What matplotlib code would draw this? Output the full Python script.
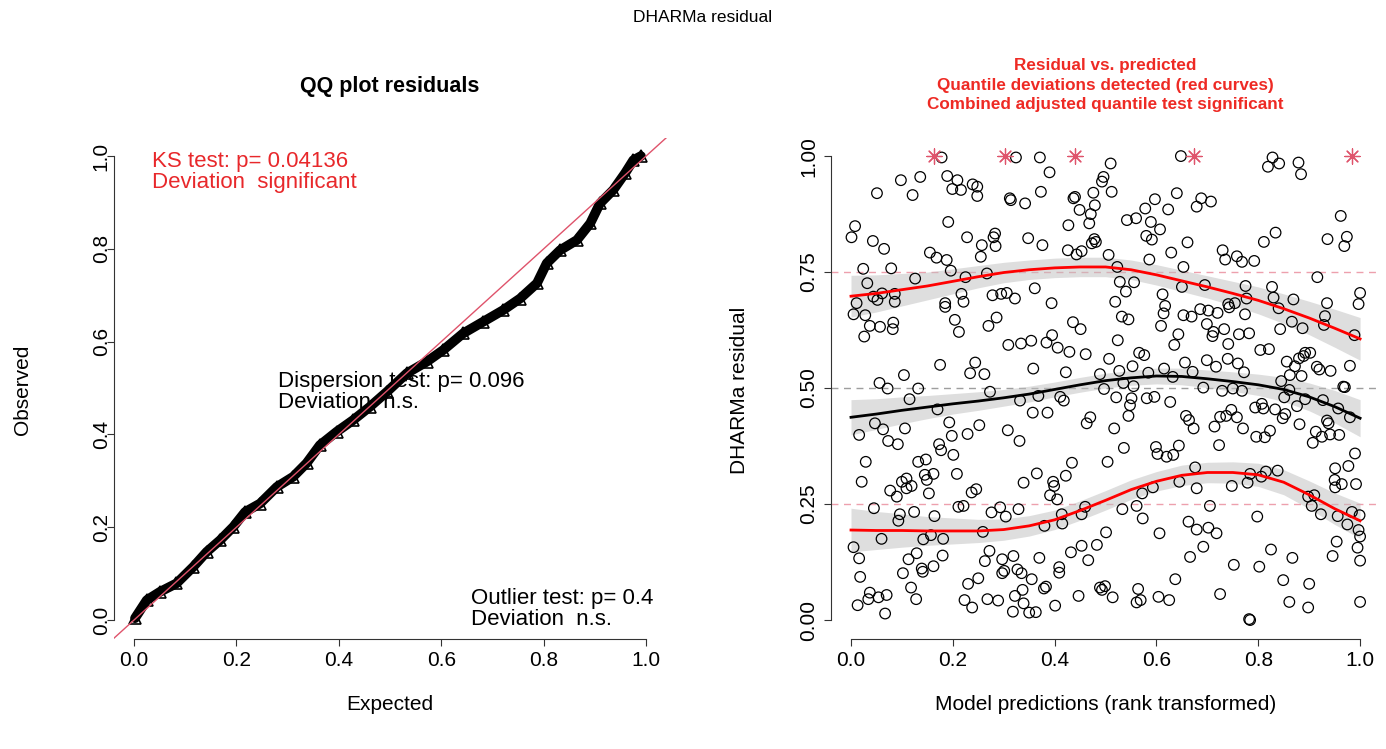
import numpy as np
import matplotlib
matplotlib.use("Agg")
import matplotlib.pyplot as plt

plt.rcParams['font.family'] = ['Liberation Sans', 'DejaVu Sans']

# --- QQ plot (expected vs observed) ---
qq_expected = [0.002, 0.025, 0.051, 0.083, 0.116, 0.142, 0.168, 0.194, 0.217, 0.246,
               0.279, 0.311, 0.337, 0.363, 0.396, 0.428, 0.461, 0.494, 0.533, 0.572,
               0.604, 0.643, 0.682, 0.721, 0.754, 0.787, 0.806, 0.832, 0.865, 0.891,
               0.910, 0.936, 0.959, 0.975, 0.990]
qq_observed = [0.004, 0.043, 0.061, 0.079, 0.115, 0.147, 0.172, 0.201, 0.233, 0.251,
               0.287, 0.309, 0.338, 0.377, 0.406, 0.431, 0.460, 0.492, 0.532, 0.557,
               0.582, 0.618, 0.643, 0.668, 0.693, 0.726, 0.769, 0.797, 0.819, 0.855,
               0.898, 0.927, 0.963, 0.991, 1.000]

# --- residual vs predicted scatter (rank transformed x, residual y) ---
pts_top = [
    (0.178, 0.997), (0.098, 0.948), (0.136, 0.955), (0.051, 0.920), (0.121, 0.916), (0.189, 0.957),
    (0.209, 0.948), (0.199, 0.929), (0.216, 0.927), (0.239, 0.939), (0.248, 0.934), (0.248, 0.914),
    (0.312, 0.909), (0.314, 0.905), (0.191, 0.858), (0.008, 0.849), (0.001, 0.825), (0.043, 0.817),
    (0.065, 0.800), (0.228, 0.825), (0.283, 0.833), (0.280, 0.825), (0.284, 0.806), (0.257, 0.808),
    (0.255, 0.783), (0.155, 0.792), (0.168, 0.781), (0.188, 0.776), (0.196, 0.753), (0.024, 0.757),
    (0.079, 0.758), (0.126, 0.736), (0.225, 0.739), (0.267, 0.747), (0.032, 0.726), (0.044, 0.697),
    (0.061, 0.704), (0.086, 0.703), (0.052, 0.690), (0.011, 0.683), (0.086, 0.686), (0.217, 0.703),
    (0.221, 0.686), (0.278, 0.700), (0.295, 0.703), (0.306, 0.705), (0.322, 0.693), (0.185, 0.683),
    (0.324, 0.997),
    (0.371, 0.997), (0.510, 0.984), (0.390, 0.965), (0.648, 1.000), (0.496, 0.955), (0.493, 0.945),
    (0.373, 0.923), (0.342, 0.898), (0.440, 0.912), (0.437, 0.909), (0.476, 0.921), (0.512, 0.923),
    (0.449, 0.884), (0.479, 0.894), (0.471, 0.875), (0.427, 0.851), (0.468, 0.855), (0.640, 0.920),
    (0.597, 0.907), (0.578, 0.887), (0.623, 0.885), (0.679, 0.891), (0.542, 0.862), (0.560, 0.866),
    (0.589, 0.858), (0.607, 0.842), (0.580, 0.828), (0.591, 0.820), (0.348, 0.823), (0.376, 0.808),
    (0.478, 0.821), (0.481, 0.815), (0.473, 0.812), (0.426, 0.797), (0.443, 0.788), (0.453, 0.795),
    (0.506, 0.787), (0.629, 0.792), (0.661, 0.814), (0.586, 0.777), (0.523, 0.761), (0.653, 0.761),
    (0.528, 0.729), (0.556, 0.728), (0.540, 0.708), (0.361, 0.715), (0.650, 0.718), (0.612, 0.702),
    (0.394, 0.683), (0.519, 0.686),
    (0.828, 0.997), (0.819, 0.977), (0.841, 0.984), (0.879, 0.986), (0.884, 0.961), (0.688, 0.909),
    (0.707, 0.902), (0.962, 0.871), (0.834, 0.835), (0.811, 0.815), (0.936, 0.821), (0.974, 0.826),
    (0.969, 0.806), (0.730, 0.797), (0.735, 0.777), (0.758, 0.784), (0.768, 0.772), (0.792, 0.774),
    (0.916, 0.739), (0.695, 0.722), (0.775, 0.720), (0.827, 0.718), (0.830, 0.695), (0.777, 0.693),
    (0.869, 0.691), (1.000, 0.705), (0.754, 0.683), (0.741, 0.681), (0.935, 0.683), (0.997, 0.681),
]
pts_mid = [
    (0.005, 0.659), (0.028, 0.657), (0.037, 0.634), (0.057, 0.632), (0.083, 0.641), (0.082, 0.627),
    (0.026, 0.611), (0.185, 0.675), (0.204, 0.647), (0.212, 0.621), (0.286, 0.652), (0.270, 0.634),
    (0.309, 0.593), (0.334, 0.596), (0.175, 0.550), (0.244, 0.555), (0.234, 0.532), (0.262, 0.530),
    (0.104, 0.528), (0.056, 0.511), (0.072, 0.499), (0.132, 0.499), (0.115, 0.476), (0.273, 0.492),
    (0.332, 0.473), (0.170, 0.454), (0.047, 0.424), (0.063, 0.411), (0.106, 0.413), (0.193, 0.426),
    (0.252, 0.420), (0.308, 0.409), (0.016, 0.399), (0.073, 0.386), (0.092, 0.379), (0.198, 0.397),
    (0.229, 0.401), (0.331, 0.386), (0.173, 0.379), (0.177, 0.366), (0.201, 0.356), (0.029, 0.341),
    (0.132, 0.341), (0.147, 0.346),
    (0.617, 0.677), (0.614, 0.661), (0.653, 0.657), (0.669, 0.654), (0.436, 0.642), (0.451, 0.627),
    (0.532, 0.654), (0.545, 0.648), (0.609, 0.634), (0.354, 0.602), (0.384, 0.598), (0.395, 0.614),
    (0.406, 0.587), (0.429, 0.578), (0.461, 0.573), (0.524, 0.603), (0.643, 0.616), (0.635, 0.593),
    (0.566, 0.576), (0.576, 0.571), (0.507, 0.563), (0.656, 0.555), (0.358, 0.542), (0.422, 0.534),
    (0.489, 0.530), (0.527, 0.537), (0.553, 0.547), (0.584, 0.533), (0.615, 0.542), (0.632, 0.524),
    (0.671, 0.535), (0.497, 0.498), (0.535, 0.511), (0.555, 0.504), (0.368, 0.483), (0.411, 0.481),
    (0.418, 0.473), (0.521, 0.480), (0.551, 0.478), (0.581, 0.478), (0.596, 0.481), (0.627, 0.470),
    (0.548, 0.463), (0.545, 0.440), (0.357, 0.447), (0.386, 0.447), (0.470, 0.437), (0.463, 0.424),
    (0.517, 0.413), (0.658, 0.440), (0.664, 0.431), (0.673, 0.413), (0.536, 0.371), (0.599, 0.373),
    (0.644, 0.376), (0.602, 0.358), (0.620, 0.352), (0.633, 0.356), (0.434, 0.339), (0.504, 0.341),
    (0.686, 0.670), (0.702, 0.667), (0.720, 0.662), (0.743, 0.674), (0.774, 0.659), (0.840, 0.672),
    (0.931, 0.655), (0.699, 0.638), (0.712, 0.621), (0.710, 0.612), (0.733, 0.627), (0.762, 0.616),
    (0.782, 0.618), (0.741, 0.595), (0.843, 0.627), (0.866, 0.643), (0.887, 0.629), (0.929, 0.636),
    (0.989, 0.614), (0.804, 0.582), (0.821, 0.584), (0.892, 0.576), (0.902, 0.576), (0.699, 0.560),
    (0.717, 0.546), (0.740, 0.563), (0.760, 0.553), (0.772, 0.534), (0.856, 0.557), (0.872, 0.547),
    (0.880, 0.564), (0.889, 0.569), (0.915, 0.546), (0.920, 0.540), (0.942, 0.537), (0.980, 0.548),
    (0.862, 0.528), (0.885, 0.526), (0.845, 0.515), (0.692, 0.501), (0.729, 0.494), (0.750, 0.499),
    (0.768, 0.494), (0.861, 0.496), (0.851, 0.480), (0.967, 0.503), (0.970, 0.502), (0.892, 0.476),
    (0.927, 0.474), (0.794, 0.458), (0.807, 0.466), (0.810, 0.456), (0.833, 0.454), (0.876, 0.461),
    (0.957, 0.456), (0.980, 0.437), (0.853, 0.444), (0.848, 0.435), (0.725, 0.438), (0.737, 0.440),
    (0.747, 0.453), (0.758, 0.437), (0.714, 0.417), (0.770, 0.413), (0.881, 0.422), (0.935, 0.430),
    (0.938, 0.424), (0.913, 0.406), (0.796, 0.395), (0.813, 0.394), (0.823, 0.408), (0.925, 0.395),
    (0.941, 0.400), (0.959, 0.399), (0.907, 0.382), (0.723, 0.377), (0.990, 0.359),
]
pts_low = [
    (0.145, 0.313), (0.162, 0.315), (0.149, 0.302), (0.208, 0.315), (0.021, 0.298), (0.100, 0.298),
    (0.109, 0.305), (0.119, 0.289), (0.109, 0.284), (0.077, 0.279), (0.090, 0.266), (0.153, 0.273),
    (0.237, 0.275), (0.246, 0.282), (0.339, 0.296), (0.211, 0.244), (0.221, 0.246), (0.045, 0.241),
    (0.096, 0.228), (0.093, 0.214), (0.124, 0.233), (0.164, 0.224), (0.276, 0.232), (0.293, 0.243),
    (0.304, 0.223), (0.329, 0.239), (0.259, 0.190), (0.060, 0.175), (0.142, 0.174), (0.157, 0.183),
    (0.181, 0.175), (0.005, 0.157), (0.016, 0.133), (0.113, 0.131), (0.129, 0.144), (0.180, 0.139),
    (0.272, 0.149), (0.263, 0.127), (0.297, 0.131), (0.319, 0.138), (0.327, 0.109), (0.297, 0.101),
    (0.301, 0.106), (0.335, 0.101), (0.139, 0.111), (0.141, 0.104), (0.162, 0.116), (0.102, 0.101),
    (0.018, 0.093), (0.118, 0.070), (0.230, 0.078), (0.250, 0.090), (0.037, 0.059), (0.034, 0.045),
    (0.054, 0.049), (0.070, 0.054), (0.013, 0.032), (0.128, 0.045), (0.223, 0.043), (0.238, 0.027),
    (0.268, 0.045), (0.289, 0.042), (0.322, 0.052), (0.337, 0.065), (0.339, 0.036), (0.067, 0.014),
    (0.318, 0.018),
    (0.365, 0.316), (0.397, 0.298), (0.399, 0.289), (0.422, 0.311), (0.391, 0.269), (0.405, 0.260),
    (0.676, 0.329), (0.645, 0.298), (0.679, 0.284), (0.593, 0.286), (0.572, 0.273), (0.460, 0.244),
    (0.453, 0.228), (0.414, 0.228), (0.415, 0.208), (0.380, 0.203), (0.533, 0.239), (0.561, 0.246),
    (0.573, 0.219), (0.663, 0.212), (0.679, 0.195), (0.501, 0.189), (0.606, 0.187), (0.453, 0.160),
    (0.483, 0.162), (0.432, 0.146), (0.370, 0.134), (0.466, 0.129), (0.666, 0.136), (0.409, 0.114),
    (0.409, 0.102), (0.355, 0.088), (0.379, 0.068), (0.383, 0.072), (0.489, 0.070), (0.499, 0.073),
    (0.493, 0.065), (0.564, 0.067), (0.637, 0.088), (0.350, 0.016), (0.363, 0.017), (0.401, 0.031),
    (0.447, 0.052), (0.514, 0.049), (0.561, 0.038), (0.569, 0.043), (0.604, 0.050), (0.625, 0.043),
    (0.748, 0.289), (0.779, 0.296), (0.784, 0.315), (0.806, 0.309), (0.815, 0.320), (0.838, 0.322),
    (0.951, 0.327), (0.977, 0.332), (0.950, 0.302), (0.964, 0.293), (0.951, 0.286), (0.992, 0.293),
    (0.705, 0.246), (0.898, 0.266), (0.910, 0.269), (0.905, 0.246), (0.923, 0.228), (0.798, 0.223),
    (0.956, 0.224), (0.984, 0.233), (0.999, 0.226), (0.975, 0.206), (0.997, 0.194), (1.000, 0.180),
    (0.702, 0.199), (0.718, 0.187), (0.692, 0.158), (0.825, 0.152), (0.867, 0.134), (0.954, 0.169),
    (0.995, 0.156), (0.946, 0.138), (1.000, 0.128), (0.752, 0.119), (0.802, 0.115), (0.849, 0.086),
    (0.900, 0.078), (0.725, 0.056), (0.861, 0.039), (0.898, 0.027), (1.000, 0.039), (0.782, 0.002),
    (0.784, 0.000),
]

# quantile regression curves (read at x = 0, 0.05, ..., 1)
curve_x = [0.00, 0.05, 0.10, 0.15, 0.20, 0.25, 0.30, 0.35, 0.40, 0.45, 0.50,
           0.55, 0.60, 0.65, 0.70, 0.75, 0.80, 0.85, 0.90, 0.95, 1.00]
q75_fit = [0.698, 0.704, 0.712, 0.720, 0.730, 0.740, 0.749, 0.755, 0.759, 0.761, 0.761,
           0.755, 0.744, 0.731, 0.718, 0.704, 0.689, 0.671, 0.651, 0.629, 0.606]
q75_se = [0.045, 0.040, 0.035, 0.030, 0.027, 0.024, 0.022, 0.021, 0.021, 0.021, 0.021,
          0.021, 0.022, 0.023, 0.024, 0.026, 0.029, 0.032, 0.036, 0.041, 0.046]
q50_fit = [0.437, 0.444, 0.452, 0.459, 0.466, 0.472, 0.479, 0.487, 0.497, 0.507, 0.516,
           0.522, 0.526, 0.525, 0.520, 0.514, 0.507, 0.497, 0.481, 0.460, 0.435]
q50_se = [0.038, 0.033, 0.029, 0.025, 0.022, 0.020, 0.018, 0.017, 0.016, 0.016, 0.016,
          0.016, 0.017, 0.018, 0.019, 0.021, 0.023, 0.026, 0.030, 0.035, 0.040]
q25_fit = [0.194, 0.193, 0.193, 0.192, 0.192, 0.192, 0.195, 0.203, 0.216, 0.236, 0.258,
           0.281, 0.299, 0.312, 0.318, 0.318, 0.313, 0.297, 0.270, 0.240, 0.214]
q25_se = [0.047, 0.041, 0.036, 0.031, 0.028, 0.025, 0.023, 0.022, 0.021, 0.021, 0.021,
          0.021, 0.021, 0.022, 0.022, 0.023, 0.025, 0.027, 0.030, 0.034, 0.038]

# asterisks marking outliers at the top edge
star_x = [0.163, 0.303, 0.440, 0.674, 0.985]

R_PINK = '#DF536B'
FS = 15

fig = plt.figure(figsize=(13.86, 7.49), dpi=100)
ax1 = fig.add_axes([0.0819, 0.1474, 0.399, 0.669])
ax2 = fig.add_axes([0.5993, 0.1474, 0.3967, 0.669])


def r_style(ax, ticks, labels, ypad):
    ax.set_xlim(-0.04, 1.04)
    ax.set_ylim(-0.04, 1.04)
    for s in ['top', 'right']:
        ax.spines[s].set_visible(False)
    ax.spines['left'].set_bounds(0, 1)
    ax.spines['bottom'].set_bounds(0, 1)
    ax.spines['left'].set_color('#333333')
    ax.spines['bottom'].set_color('#333333')
    ax.set_xticks(np.arange(0, 1.01, 0.2))
    ax.set_xticklabels([f"{t:.1f}" for t in np.arange(0, 1.01, 0.2)])
    ax.set_yticks(ticks)
    ax.set_yticklabels(labels, rotation=90, va='center')
    ax.tick_params(length=5, width=0.8, pad=4, labelsize=FS, colors='#333333', labelcolor='black')
    ax.tick_params(axis='y', pad=ypad)


# --- left panel: QQ plot ---
r_style(ax1, np.arange(0, 1.01, 0.2), [f"{t:.1f}" for t in np.arange(0, 1.01, 0.2)], -3)
ax1.plot(qq_expected, qq_observed, color='black', lw=7, solid_capstyle='round', zorder=2)
ax1.plot(qq_expected, qq_observed, ls='none', marker='^', ms=9, mfc='none', mec='black',
         mew=1.2, zorder=3)
ax1.axline((0, 0), slope=1, color=R_PINK, lw=1, zorder=4)

ax1.text(0.5, 1.08, "QQ plot residuals", transform=ax1.transAxes, ha='center', va='bottom',
         fontsize=15.5, fontweight='bold')
ax1.text(0.5, -0.1325, "Expected", transform=ax1.transAxes, ha='center', va='center', fontsize=FS)
ax1.text(-0.165, 0.496, "Observed", transform=ax1.transAxes, ha='center', va='center',
         rotation=90, fontsize=FS)

ax1.text(0.036, 1.01, "KS test: p= 0.04136\nDeviation  significant", color='#E8282B',
         fontsize=16, ha='left', va='top', linespacing=1.0)
ax1.text(0.281, 0.536, "Dispersion test: p= 0.096\nDeviation  n.s.", color='black',
         fontsize=16, ha='left', va='top', linespacing=1.0)
ax1.text(0.658, 0.070, "Outlier test: p= 0.4\nDeviation  n.s.", color='black',
         fontsize=16, ha='left', va='top', linespacing=1.05)

# --- right panel: residual vs predicted ---
r_style(ax2, [0, 0.25, 0.5, 0.75, 1.0], ["0.00", "0.25", "0.50", "0.75", "1.00"], 4)
all_pts = np.array(pts_top + pts_mid + pts_low)
ax2.scatter(all_pts[:, 0], all_pts[:, 1], s=58, facecolors='none', edgecolors='black',
            linewidths=0.9, zorder=3)

ax2.axhline(0.25, color=R_PINK, alpha=0.55, ls=(0, (5, 4)), lw=1, zorder=1)
ax2.axhline(0.75, color=R_PINK, alpha=0.55, ls=(0, (5, 4)), lw=1, zorder=1)
ax2.axhline(0.50, color='#9E9E9E', ls=(0, (5, 4)), lw=1, zorder=1)

cx = np.array(curve_x)
for fit, se, col in [(q25_fit, q25_se, 'red'), (q50_fit, q50_se, 'black'), (q75_fit, q75_se, 'red')]:
    fit = np.array(fit)
    se = np.array(se)
    ax2.fill_between(cx, fit - se, fit + se, color='#BEBEBE', alpha=0.5, lw=0, zorder=2)
    ax2.plot(cx, fit, color=col, lw=2, zorder=4)

ax2.scatter(star_x, [1.0] * len(star_x), marker=(8, 2, 0), s=120, color=R_PINK,
            linewidths=0.9, zorder=5)

ax2.text(0.5, 1.05, "Residual vs. predicted\nQuantile deviations detected (red curves)\n"
         "Combined adjusted quantile test significant", transform=ax2.transAxes,
         ha='center', va='bottom', color='#EE2A24', fontsize=12.3, fontweight='bold',
         linespacing=1.4)
ax2.text(0.5, -0.1325, "Model predictions (rank transformed)", transform=ax2.transAxes,
         ha='center', va='center', fontsize=FS)
ax2.text(-0.165, 0.496, "DHARMa residual", transform=ax2.transAxes, ha='center', va='center',
         rotation=90, fontsize=FS)

fig.text(0.507, 0.976, "DHARMa residual", ha='center', va='center', fontsize=12.5)

fig.savefig("out.png", dpi=100)
